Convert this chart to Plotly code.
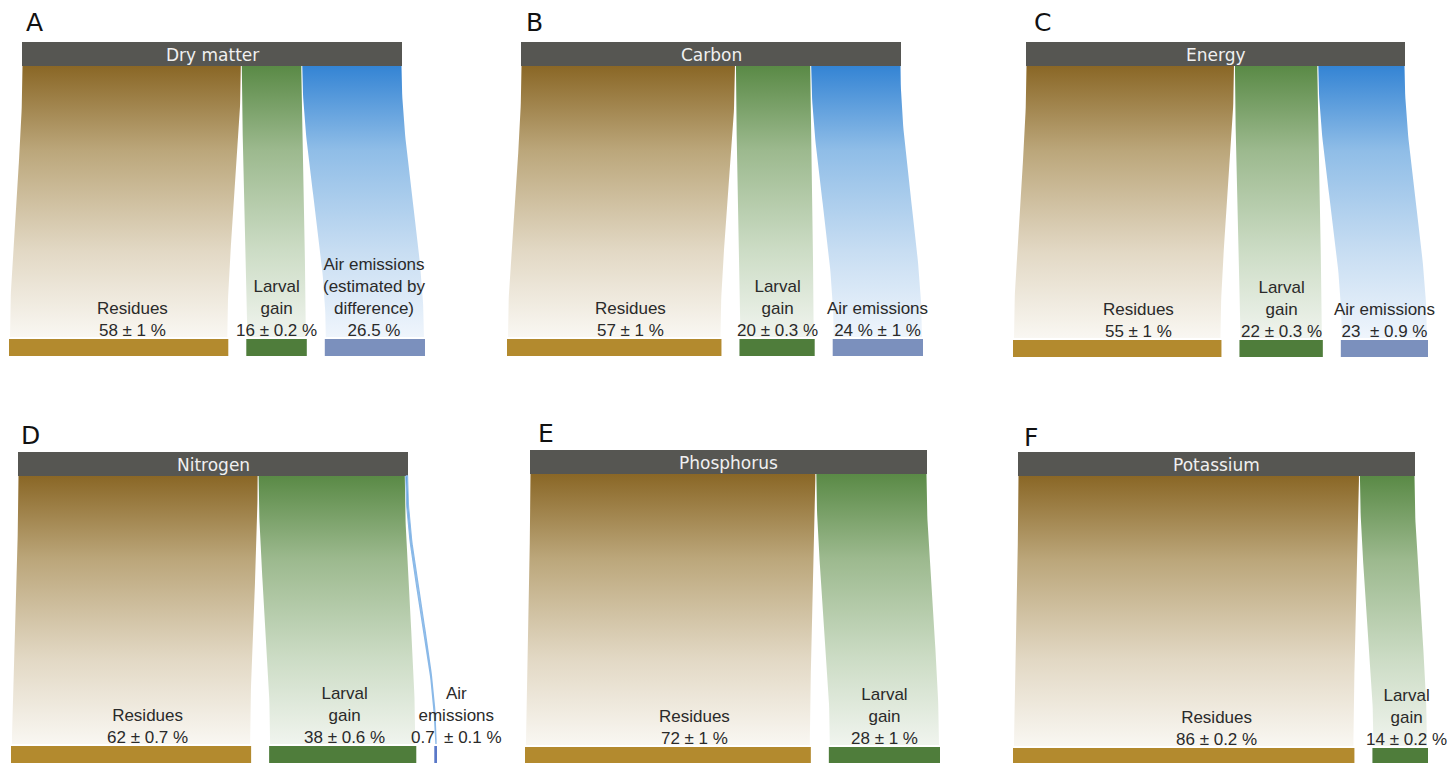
import numpy as np
import plotly.graph_objects as go

# ---------------- data ----------------
panel_titles = ["Dry matter", "Carbon", "Energy", "Nitrogen", "Phosphorus", "Potassium"]
panel_letters = ["A", "B", "C", "D", "E", "F"]
residues = [58, 57, 55, 62, 72, 86]
larval = [16, 20, 22, 38, 28, 14]
air = [26.5, 24, 23, 0.7, None, None]
residue_labels = ["Residues<br>58 ± 1 %", "Residues<br>57 ± 1 %", "Residues<br>55 ± 1 %",
                  "Residues<br>62 ± 0.7 %", "Residues<br>72 ± 1 %", "Residues<br>86 ± 0.2 %"]
larval_labels = ["Larval<br>gain<br>16 ± 0.2 %", "Larval<br>gain<br>20 ± 0.3 %",
                 "Larval<br>gain<br>22 ± 0.3 %", "Larval<br>gain<br>38 ± 0.6 %",
                 "Larval<br>gain<br>28 ± 1 %", "Larval<br>gain<br>14 ± 0.2 %"]
air_labels = ["Air emissions<br>(estimated by<br>difference)<br>26.5 %",
              "Air emissions<br>24 % ± 1 %", "Air emissions<br>23  ± 0.9 %",
              "Air<br>emissions<br>0.7  ± 0.1 %", None, None]

# ---------------- layout constants (pixels) ----------------
W, H = 1447, 763
PANELS = [
    dict(hx0=22, hx1=402, hy0=42, hy1=66, by0=339, by1=356, bx0=9, lx=25, ly=12),
    dict(hx0=521, hx1=901, hy0=42, hy1=66, by0=339, by1=356, bx0=507, lx=525, ly=12),
    dict(hx0=1026, hx1=1405, hy0=42, hy1=66, by0=340, by1=357, bx0=1013, lx=1033, ly=12),
    dict(hx0=18, hx1=408, hy0=452, hy1=476, by0=746, by1=766, bx0=11, lx=20, ly=425),
    dict(hx0=530, hx1=927, hy0=450, hy1=474, by0=747, by1=766, bx0=525, lx=537, ly=423),
    dict(hx0=1018, hx1=1415, hy0=452, hy1=476, by0=748, by1=766, bx0=1013, lx=1023, ly=427),
]
LABEL_DX = [(14, 0, 0), (16, 0, 0), (21, 0, 0), (16, 2, 21), (27, 0, 0), (33, 6, 0)]
GAP = 18

STYLE = {
    "res": dict(bar="#b38a2e",
                cs=[[0, "#f9f7f2"], [0.32, "#e2d8c4"], [0.69, "#bba67a"], [1, "#8a6726"]]),
    "lar": dict(bar="#4f7d3b",
                cs=[[0, "#f0f4ee"], [0.32, "#ccdcc5"], [0.69, "#9cb98e"], [1, "#5a8a46"]]),
    "air": dict(bar="#7b90bd",
                cs=[[0, "#eff5fc"], [0.32, "#c7ddf2"], [0.69, "#8fbde7"], [1, "#3484d4"]]),
}
HEADER_COLOR = "#565652"
TEXT_COLOR = "#2a2a2a"
LABEL_FONT = "Liberation Sans, Arial, sans-serif"
HEADER_FONT = "DejaVu Sans, Verdana, sans-serif"


def Y(py):
    return H - py


fig = go.Figure()
annotations = []


def rect(x0, x1, y0, y1, color):
    fig.add_trace(go.Scatter(
        x=[x0, x1, x1, x0, x0], y=[Y(y0), Y(y0), Y(y1), Y(y1), Y(y0)],
        mode="lines", fill="toself", fillcolor=color, line=dict(width=0),
        hoverinfo="skip", showlegend=False))


def flow(xt0, xt1, xb0, xb1, ytop, ybot, cs, thin=False):
    t = np.linspace(0, 1, 60)
    s = 3 * t ** 2 - 2 * t ** 3
    ys = ytop + (ybot - ytop) * t
    left = xt0 + (xb0 - xt0) * s
    right = xt1 + (xb1 - xt1) * s
    xs = np.concatenate([left, right[::-1], left[:1]])
    yy = np.concatenate([ys, ys[::-1], ys[:1]])
    fig.add_trace(go.Scatter(
        x=xs, y=[Y(v) for v in yy], mode="lines", fill="toself",
        fillgradient=dict(type="vertical", colorscale=cs, start=Y(ybot), stop=Y(ytop)),
        line=dict(width=1.3 if thin else 0, color="#8ab9e8"),
        hoverinfo="skip", showlegend=False))


for i, p in enumerate(PANELS):
    vals = [("res", residues[i], residue_labels[i]),
            ("lar", larval[i], larval_labels[i])]
    if air[i] is not None:
        vals.append(("air", air[i], air_labels[i]))
    total = sum(v for _, v, _ in vals)
    scale = (p["hx1"] - p["hx0"]) / total

    rect(p["hx0"], p["hx0"] + total * scale, p["hy0"], p["hy1"], HEADER_COLOR)
    annotations.append(dict(
        x=(p["hx0"] + p["hx1"]) / 2, y=Y((p["hy0"] + p["hy1"]) / 2 + 1),
        text=panel_titles[i], showarrow=False, xanchor="center", yanchor="middle",
        font=dict(family=HEADER_FONT, size=17, color="#f0f0f0")))
    annotations.append(dict(
        x=p["lx"] - 1, y=Y(p["ly"] - 6), text=panel_letters[i], showarrow=False,
        xanchor="left", yanchor="top",
        font=dict(family=HEADER_FONT, size=25, color="#111111")))

    top = p["hx0"]
    bot = p["bx0"]
    for j, (key, v, lab) in enumerate(vals):
        w = v * scale
        st = STYLE[key]
        bw = max(w, 2)
        flow(top + 0.5, top + w - 0.5, bot + 1, bot + bw - 1,
             p["hy1"], p["by0"] - 2, st["cs"], thin=w < 4)
        bar_col = st["bar"] if w >= 4 else "#5a78c8"
        rect(bot, bot + bw, p["by0"], p["by1"], bar_col)
        annotations.append(dict(
            x=bot + bw / 2 + LABEL_DX[i][j], y=Y(p["by0"] + 3), text=lab,
            showarrow=False, xanchor="center", yanchor="bottom", align="center",
            font=dict(family=LABEL_FONT, size=17, color=TEXT_COLOR)))
        top += w
        bot += bw + GAP

fig.update_layout(
    width=W, height=H, margin=dict(l=0, r=0, t=0, b=0),
    paper_bgcolor="white", plot_bgcolor="white",
    xaxis=dict(range=[0, W], visible=False, fixedrange=True),
    yaxis=dict(range=[0, H], visible=False, fixedrange=True),
    annotations=annotations, showlegend=False,
)
fig.write_html("out.html", config={"displayModeBar": False},
               post_script="document.body.style.margin='0';document.body.style.overflow='hidden';")
